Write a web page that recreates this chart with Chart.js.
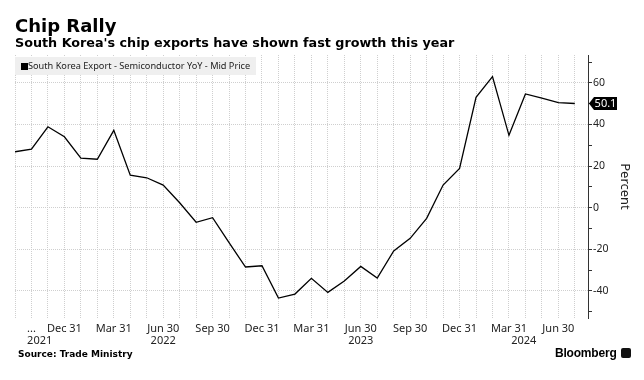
<!DOCTYPE html>
<html>
<head>
<meta charset="utf-8">
<script src="https://cdn.jsdelivr.net/npm/chart.js@4/dist/chart.umd.min.js"></script>
<style>
  body { margin: 0; background: #fff; }
  #wrap { position: relative; width: 644px; height: 380px; overflow: hidden; }
  #canva1 { position: absolute; left: 0; top: 0; }
  .txt { position: absolute; white-space: nowrap; color: #000; }
  #title { left: 15px; top: 15.8px; font: bold 18px/20px "DejaVu Sans"; }
  #subtitle { left: 15px; top: 35.4px; font: bold 12.75px/16px "DejaVu Sans"; }
  #source { left: 18px; top: 348.2px; font: bold 9px/12px "DejaVu Sans"; }
  #brand { left: 555px; top: 346px; font: bold 12px/14px "Liberation Sans"; letter-spacing: -0.2px; }
  #icon { position: absolute; left: 621px; top: 348px; width: 10px; height: 10px; background: #111; border-radius: 2px; }
  #legend { position: absolute; left: 15px; top: 57px; width: 241px; height: 18px; background: #efefef; }
  #legend span.sq { position: absolute; left: 6px; top: 6px; width: 7px; height: 7px; background: #000; }
  #legend span.lb { position: absolute; left: 13px; top: 3px; font: 9.2px/12px "Noto Sans"; color: #222; white-space: nowrap; }
</style>
</head>
<body>
<div id="wrap">
  <canvas id="canva1" width="644" height="380"></canvas>
  <div class="txt" id="title">Chip Rally</div>
  <div class="txt" id="subtitle">South Korea's chip exports have shown fast growth this year</div>
  <div id="legend"><span class="sq"></span><span class="lb">South Korea Export - Semiconductor YoY - Mid Price</span></div>
  <div class="txt" id="source">Source: Trade Ministry</div>
  <div class="txt" id="brand">Bloomberg</div>
  <div id="icon"></div>
</div>
<script>
// monthly, Sep 2021 .. Jul 2024
const months = [
  "Sep 2021","Oct 2021","Nov 2021","Dec 2021",
  "Jan 2022","Feb 2022","Mar 2022","Apr 2022","May 2022","Jun 2022","Jul 2022","Aug 2022","Sep 2022","Oct 2022","Nov 2022","Dec 2022",
  "Jan 2023","Feb 2023","Mar 2023","Apr 2023","May 2023","Jun 2023","Jul 2023","Aug 2023","Sep 2023","Oct 2023","Nov 2023","Dec 2023",
  "Jan 2024","Feb 2024","Mar 2024","Apr 2024","May 2024","Jun 2024","Jul 2024"
];
const values = [
  26.9, 28.1, 38.9, 34.1,
  23.8, 23.3, 37.2, 15.6, 14.4, 10.9, 2.4, -7.0, -4.8, -16.8, -28.5, -27.9,
  -43.4, -41.5, -33.9, -40.7, -35.2, -28.2, -33.8, -20.8, -14.7, -5.1, 10.9, 18.9,
  53.1, 63.0, 34.8, 54.7, 52.7, 50.5, 50.1
];
// quarter-end tick labels (month index -> text)
const xTickIdx = [1, 3, 6, 9, 12, 15, 18, 21, 24, 27, 30, 33];
const xTickText = ["...", "Dec 31", "Mar 31", "Jun 30", "Sep 30", "Dec 31", "Mar 31", "Jun 30", "Sep 30", "Dec 31", "Mar 31", "Jun 30"];
const years = ["2021", "2022", "2023", "2024"];
const yearFrom = [0, 3, 15, 27];
const yearTo = [3, 15, 27, 34.8];
const yTicks = [-50, -40, -30, -20, -10, 0, 10, 20, 30, 40, 50, 60, 70];

const extras = {
  id: "extras",
  afterDraw(chart) {
    const ctx = chart.ctx, xs = chart.scales.x, ys = chart.scales.y, area = chart.chartArea;
    ctx.save();
    // year row
    ctx.font = "11px 'Noto Sans'";
    ctx.fillStyle = "#222";
    ctx.textAlign = "center";
    ctx.textBaseline = "alphabetic";
    years.forEach((y, i) => {
      const px = xs.getPixelForValue((yearFrom[i] + yearTo[i]) / 2);
      ctx.fillText(y, px, area.bottom + 26);
    });
    // last value tag
    const last = values[values.length - 1];
    const py = ys.getPixelForValue(last);
    const x0 = area.right + 1;
    ctx.fillStyle = "#000";
    ctx.beginPath();
    ctx.moveTo(x0, py);
    ctx.lineTo(x0 + 5, py - 6.5);
    ctx.lineTo(x0 + 28, py - 6.5);
    ctx.lineTo(x0 + 28, py + 6.5);
    ctx.lineTo(x0 + 5, py + 6.5);
    ctx.closePath();
    ctx.fill();
    ctx.fillStyle = "#fff";
    ctx.font = "11px 'Noto Sans'";
    ctx.textAlign = "center";
    ctx.textBaseline = "middle";
    ctx.fillText(last.toFixed(1), x0 + 16.5, py + 0.5);
    ctx.restore();
  }
};

let canva1 = document.getElementById("canva1");
let grafico1 = new Chart(canva1, {
  type: "line",
  data: {
    labels: months,
    datasets: [{
      label: "South Korea Export - Semiconductor YoY - Mid Price",
      data: values.map((v, i) => ({ x: i, y: v })),
      borderColor: "#000",
      borderWidth: 1.3,
      pointRadius: 0,
      tension: 0,
      fill: false
    }]
  },
  options: {
    responsive: false,
    animation: false,
    layout: { padding: { left: 15, top: 55, right: 0, bottom: 42 } },
    plugins: { legend: { display: false }, tooltip: { enabled: false } },
    scales: {
      x: {
        type: "linear",
        min: 0,
        max: 34.8,
        afterBuildTicks: s => { s.ticks = months.map((m, i) => ({ value: i })); },
        afterFit: s => { s.height = 20; },
        grid: { color: "#cfcfcf", drawTicks: false },
        border: { display: false, dash: [1, 1] },
        ticks: {
          autoSkip: false,
          maxRotation: 0,
          padding: 4,
          color: "#222",
          font: { family: "Noto Sans", size: 11 },
          callback: v => { const k = xTickIdx.indexOf(v); return k < 0 ? "" : xTickText[k]; }
        }
      },
      y: {
        position: "right",
        min: -53,
        max: 73.4,
        afterBuildTicks: s => { s.ticks = yTicks.map(v => ({ value: v })); },
        afterFit: s => { s.width = 56; },
        grid: {
          color: c => (c.tick && c.tick.value % 20 === 0) ? "#cfcfcf" : "rgba(0,0,0,0)",
          tickColor: "#333",
          tickLength: 4
        },
        border: { display: true, color: "#333", width: 1, dash: [1, 1] },
        ticks: {
          padding: 1,
          color: "#222",
          font: { family: "Noto Sans", size: 10.5 },
          callback: v => (v % 20 === 0 ? v : "")
        },
        title: {
          display: true,
          text: "Percent",
          color: "#222",
          font: { family: "Noto Sans", size: 13 },
          padding: { top: 11, bottom: 0 }
        }
      }
    }
  },
  plugins: [extras]
});
</script>
</body>
</html>
